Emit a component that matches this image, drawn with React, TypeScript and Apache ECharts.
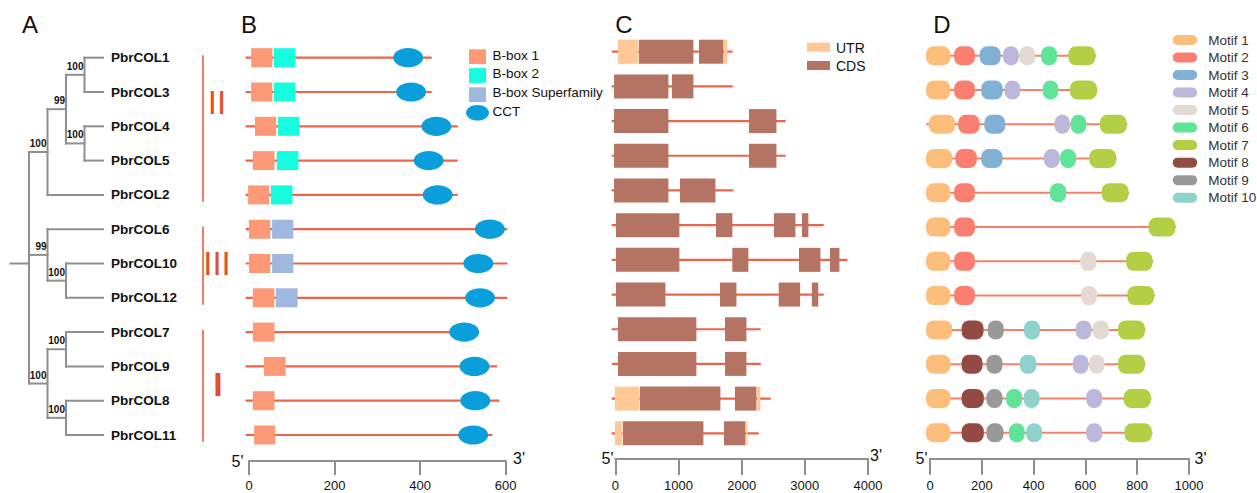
import React, { useEffect, useRef } from "react";
import * as echarts from "echarts";

const FONT = "'Liberation Sans', Arial, Helvetica, sans-serif";

// ---------- Rows (top to bottom) ----------
const genes = [
  "PbrCOL1", "PbrCOL3", "PbrCOL4", "PbrCOL5", "PbrCOL2", "PbrCOL6",
  "PbrCOL10", "PbrCOL12", "PbrCOL7", "PbrCOL9", "PbrCOL8", "PbrCOL11",
];

// ---------- A: phylogenetic tree ----------
// children: internal node ids (string) or leaf row indices (number)
const treeNodes = [
  { id: "root", depth: 0, children: ["II", "III", "I"], support: "" },
  { id: "II", depth: 1, children: ["n99", 4], support: "100" },
  { id: "n99", depth: 2, children: ["n13", "n45"], support: "99" },
  { id: "n13", depth: 3, children: [0, 1], support: "100" },
  { id: "n45", depth: 3, children: [2, 3], support: "100" },
  { id: "III", depth: 1, children: [5, "n1012"], support: "99" },
  { id: "n1012", depth: 2, children: [6, 7], support: "100" },
  { id: "I", depth: 1, children: ["n79", "n811"], support: "100" },
  { id: "n79", depth: 2, children: [8, 9], support: "100" },
  { id: "n811", depth: 2, children: [10, 11], support: "100" },
];
const leafDepth = 4;
const rootStubDepth = -1;

// Clades: [first row, last row], numeral, numeral row position
const cladeRows = [[0, 4], [5, 7], [8, 11]];
const cladeNames = ["II", "III", "I"];
const cladeLabelRow = [1.32, 6.0, 9.5];

// ---------- B: conserved domains (aa) ----------
const proteinSpan = [
  [-8, 427], [-8, 427], [-8, 488], [-8, 488], [-8, 488], [-8, 604],
  [-8, 604], [-8, 604], [-8, 525], [-8, 580], [-8, 585], [-8, 569],
];
const bbox1 = [
  [0, 5, 56], [1, 5, 56], [2, 14, 65], [3, 9, 61], [4, -2, 49], [5, 0, 51],
  [6, 0, 51], [7, 9, 61], [8, 9, 61], [9, 35, 87], [10, 9, 61], [11, 12, 63],
];
const bbox2 = [[0, 58, 110], [1, 58, 110], [2, 68, 119], [3, 65, 117], [4, 51, 103]];
const bboxSuper = [[5, 54, 105], [6, 54, 105], [7, 63, 115]];
const cct = [
  [0, 337, 407], [1, 344, 414], [2, 403, 473], [3, 385, 455], [4, 406, 476], [5, 528, 598],
  [6, 501, 571], [7, 505, 575], [8, 468, 538], [9, 492, 562], [10, 494, 564], [11, 489, 559],
];
const domainNames = ["B-box 1", "B-box 2", "B-box Superfamily", "CCT"];
const domainColors = ["#FC9A77", "#17FCDF", "#9EB8E0", "#0A9FDA"];

// ---------- C: gene structure (bp) ----------
const geneSpan = [
  [-57, 1858], [-57, 1858], [-57, 2697], [-57, 2697], [-57, 1868], [-57, 3299],
  [-57, 3673], [-57, 3299], [-57, 2302], [-57, 2302], [-57, 2460], [-57, 2270],
];
const cdsParts = [
  [0, 375, 1246], [0, 1325, 1721],
  [1, -20, 850], [1, 897, 1246],
  [2, -20, 850], [2, 2117, 2560],
  [3, -20, 850], [3, 2117, 2560],
  [4, -20, 850], [4, 1024, 1594],
  [5, 11, 1024], [5, 1594, 1863], [5, 2512, 2860], [5, 2955, 3066],
  [6, 11, 1024], [6, 1852, 2116], [6, 2908, 3256], [6, 3399, 3557],
  [7, 11, 803], [7, 1657, 1927], [7, 2587, 2935], [7, 3111, 3222],
  [8, 43, 1293], [8, 1737, 2085],
  [9, 43, 1293], [9, 1737, 2085],
  [10, 391, 1673], [10, 1895, 2243],
  [11, 122, 1404], [11, 1721, 2069],
];
const utrParts = [
  [0, 43, 375], [0, 1721, 1784],
  [10, -5, 391], [10, 2243, 2306],
  [11, -5, 122], [11, 2069, 2100],
];
const structNames = ["UTR", "CDS"];
const structColors = ["#FFC894", "#B47363"];

// ---------- D: motifs (aa) ----------
const motifSpan = [
  [-15, 641], [-15, 647], [-15, 762], [-15, 721], [-15, 769], [-15, 950],
  [-15, 862], [-15, 868], [-15, 832], [-15, 832], [-15, 855], [-15, 859],
];
// [row, motif number, start, end]
const motifHits = [
  [0, 1, -15, 81], [0, 2, 93, 176], [0, 3, 192, 275], [0, 4, 282, 345], [0, 5, 345, 409], [0, 6, 429, 493], [0, 7, 534, 641],
  [1, 1, -15, 81], [1, 2, 93, 176], [1, 3, 198, 283], [1, 4, 288, 351], [1, 6, 435, 498], [1, 7, 540, 647],
  [2, 1, -4, 99], [2, 2, 109, 194], [2, 3, 210, 293], [2, 4, 481, 543], [2, 6, 543, 606], [2, 7, 656, 762],
  [3, 1, -15, 88], [3, 2, 98, 183], [3, 3, 198, 282], [3, 4, 440, 503], [3, 6, 503, 566], [3, 7, 615, 721],
  [4, 1, -15, 81], [4, 2, 93, 176], [4, 6, 463, 528], [4, 7, 663, 769],
  [5, 1, -15, 81], [5, 2, 93, 176], [5, 7, 844, 950],
  [6, 1, -15, 81], [6, 2, 93, 176], [6, 5, 580, 645], [6, 7, 757, 862],
  [7, 1, -15, 81], [7, 2, 93, 176], [7, 5, 583, 648], [7, 7, 762, 868],
  [8, 1, -15, 88], [8, 8, 122, 209], [8, 9, 223, 287], [8, 10, 363, 427], [8, 4, 563, 626], [8, 5, 628, 693], [8, 7, 726, 832],
  [9, 1, -15, 81], [9, 8, 122, 205], [9, 9, 218, 282], [9, 10, 347, 413], [9, 4, 551, 614], [9, 5, 614, 676], [9, 7, 726, 832],
  [10, 1, -15, 81], [10, 8, 122, 210], [10, 9, 218, 282], [10, 6, 294, 358], [10, 10, 362, 425], [10, 4, 603, 667], [10, 7, 748, 855],
  [11, 1, -15, 81], [11, 8, 122, 210], [11, 9, 218, 286], [11, 6, 305, 368], [11, 10, 372, 435], [11, 4, 603, 667], [11, 7, 751, 859],
];
const motifNames = ["Motif 1", "Motif 2", "Motif 3", "Motif 4", "Motif 5", "Motif 6", "Motif 7", "Motif 8", "Motif 9", "Motif 10"];
const motifColors = ["#FDBE7B", "#FB7F70", "#80B0D3", "#BDB8DB", "#E5DAD3", "#5FE498", "#B2CF45", "#934A43", "#999999", "#8ED2CB"];

const panelLetters = ["A", "B", "C", "D"];

// ---------- helpers ----------
function nodeById(id: string) {
  return treeNodes.find((n) => n.id === id)!;
}
function nodeY(c: any): number {
  if (typeof c === "number") return c;
  const ys = nodeById(c).children.map(nodeY);
  return ys.reduce((a: number, b: number) => a + b, 0) / ys.length;
}
function nodeDepth(c: any): number {
  return typeof c === "number" ? leafDepth : nodeById(c).depth;
}
function treeSegments() {
  const segs: number[][] = [];
  treeNodes.forEach((n) => {
    const ys = n.children.map(nodeY);
    segs.push([n.depth, Math.min(...ys), n.depth, Math.max(...ys)]);
    n.children.forEach((c) => {
      const y = nodeY(c);
      segs.push([n.depth, y, nodeDepth(c), y]);
    });
  });
  const ry = nodeY("root");
  segs.push([rootStubDepth, ry, 0, ry]);
  return segs;
}

const lineRender = (color: string, width: number) => (params: any, api: any) => {
  const row = api.value(0);
  const p1 = api.coord([api.value(1), row]);
  const p2 = api.coord([api.value(2), row]);
  return {
    type: "line",
    shape: { x1: p1[0], y1: p1[1], x2: p2[0], y2: p2[1] },
    style: { stroke: color, lineWidth: width },
  };
};
const boxRender = (color: string, h: number, r: number) => (params: any, api: any) => {
  const row = api.value(0);
  const p1 = api.coord([api.value(1), row]);
  const p2 = api.coord([api.value(2), row]);
  return {
    type: "rect",
    shape: { x: p1[0], y: p1[1] - h / 2, width: Math.max(1, p2[0] - p1[0] - 0.6), height: h, r },
    style: { fill: color },
  };
};
const ellipseRender = (color: string, ry: number) => (params: any, api: any) => {
  const row = api.value(0);
  const p1 = api.coord([api.value(1), row]);
  const p2 = api.coord([api.value(2), row]);
  return {
    type: "ellipse",
    shape: { cx: (p1[0] + p2[0]) / 2, cy: p1[1], rx: (p2[0] - p1[0]) / 2, ry },
    style: { fill: color },
  };
};

function rowData(spans: number[][]) {
  return spans.map((s, i) => [i, s[0], s[1]]);
}

function axisX(gridIndex: number, max: number, interval: number, offset: number, tickLen: number, margin: number) {
  return {
    type: "value",
    gridIndex,
    min: 0,
    max,
    interval,
    offset,
    axisLine: { show: true, onZero: false, lineStyle: { color: "#8e8e8e", width: 2 } },
    axisTick: { show: true, length: tickLen, lineStyle: { color: "#8e8e8e", width: 2 } },
    axisLabel: {
      show: true, fontSize: 13, lineHeight: 10, color: "#111", margin, fontFamily: FONT,
      hideOverlap: false, formatter: (v: number) => String(v),
    },
    splitLine: { show: false },
  };
}
function rowAxis(gridIndex: number) {
  return { type: "value", gridIndex, min: -0.5, max: 11.5, inverse: true, show: false };
}

function buildOption() {
  const series: any[] = [];

  // Tree
  series.push({
    type: "custom",
    name: "tree",
    xAxisIndex: 0,
    yAxisIndex: 0,
    data: treeSegments(),
    encode: { x: [0, 2], y: [1, 3] },
    renderItem: (params: any, api: any) => {
      const p1 = api.coord([api.value(0), api.value(1)]);
      const p2 = api.coord([api.value(2), api.value(3)]);
      return {
        type: "line",
        shape: { x1: p1[0], y1: p1[1], x2: p2[0], y2: p2[1] },
        style: { stroke: "#8f8f8f", lineWidth: 2, lineCap: "square" },
      };
    },
  });
  // Bootstrap values
  series.push({
    type: "custom",
    name: "support",
    xAxisIndex: 0,
    yAxisIndex: 0,
    data: treeNodes.filter((n) => n.support).map((n) => [n.depth, nodeY(n.id), n.support]),
    encode: { x: 0, y: 1 },
    renderItem: (params: any, api: any) => {
      const p = api.coord([api.value(0), api.value(1)]);
      return {
        type: "text",
        x: p[0] - 1,
        y: p[1] - 8.5,
        style: {
          text: String(api.value(2)),
          fill: "#111",
          fontSize: 10,
          fontWeight: "bold",
          fontFamily: FONT,
          align: "right",
          verticalAlign: "middle",
        },
      };
    },
  });
  // Clade brackets and numerals
  series.push({
    type: "custom",
    name: "clades",
    xAxisIndex: 0,
    yAxisIndex: 0,
    data: cladeRows.map((r, i) => [r[0], r[1], cladeLabelRow[i], i]),
    encode: { y: [0, 1] },
    renderItem: (params: any, api: any) => {
      const x = api.coord([leafDepth, 0])[0] + 100;
      const a = api.coord([leafDepth, api.value(0) - 0.07])[1];
      const b = api.coord([leafDepth, api.value(1) + 0.2])[1];
      const ly = api.coord([leafDepth, api.value(2)])[1];
      const name = cladeNames[api.value(3)];
      return {
        type: "group",
        children: [
          { type: "line", shape: { x1: x, y1: a, x2: x, y2: b }, style: { stroke: "#E8603C", lineWidth: 1.6 } },
          {
            type: "text",
            x: x + (name === "I" ? 15 : 14),
            y: ly,
            style: {
              text: name,
              fill: "#E0522E",
              fontSize: name === "I" ? 34 : 33,
              fontFamily: "'Liberation Sans Narrow', 'Liberation Sans', Arial, sans-serif",
              fontWeight: name === "I" ? "bold" : "normal",
              align: "center",
              verticalAlign: "middle",
            },
          },
        ],
      };
    },
  });

  // B
  series.push({
    type: "custom", name: "protein", xAxisIndex: 1, yAxisIndex: 2,
    data: rowData(proteinSpan), encode: { x: [1, 2], y: 0 },
    renderItem: lineRender("#E8674A", 2.2),
  });
  [bbox1, bbox2, bboxSuper].forEach((d, k) => {
    series.push({
      type: "custom", name: domainNames[k], xAxisIndex: 1, yAxisIndex: 2,
      data: d, encode: { x: [1, 2], y: 0 },
      renderItem: boxRender(domainColors[k], 19, 0),
    });
  });
  series.push({
    type: "custom", name: domainNames[3], xAxisIndex: 1, yAxisIndex: 2,
    data: cct, encode: { x: [1, 2], y: 0 },
    renderItem: ellipseRender(domainColors[3], 9.6),
  });

  // C
  series.push({
    type: "custom", name: "gene", xAxisIndex: 2, yAxisIndex: 3,
    data: rowData(geneSpan), encode: { x: [1, 2], y: 0 },
    renderItem: lineRender("#E8674A", 2.2),
  });
  [utrParts, cdsParts].forEach((d, k) => {
    series.push({
      type: "custom", name: structNames[k], xAxisIndex: 2, yAxisIndex: 3,
      data: d, encode: { x: [1, 2], y: 0 },
      renderItem: boxRender(structColors[k], 24, 0),
    });
  });

  // D
  series.push({
    type: "custom", name: "motifLine", xAxisIndex: 3, yAxisIndex: 4,
    data: rowData(motifSpan), encode: { x: [1, 2], y: 0 },
    renderItem: lineRender("#F2836A", 2),
  });
  motifNames.forEach((name, k) => {
    series.push({
      type: "custom", name, xAxisIndex: 3, yAxisIndex: 4,
      data: motifHits.filter((h) => h[1] === k + 1).map((h) => [h[0], h[2], h[3]]),
      encode: { x: [1, 2], y: 0 },
      renderItem: boxRender(motifColors[k], 19, 7.5),
    });
  });

  // Graphic: panel letters, 5'/3', legends
  const graphic: any[] = [];
  const letterX = [30, 249, 624, 942];
  panelLetters.forEach((t, i) => {
    graphic.push({
      type: "text", x: letterX[i], y: 24.5,
      style: { text: t, fontSize: 24, fontFamily: FONT, fill: "#111", align: "center", verticalAlign: "middle" },
    });
  });
  const primeLabels = [
    ["5'", 237.5, 461], ["3'", 519, 458.5],
    ["5'", 607.5, 458.7], ["3'", 876, 455],
    ["5'", 921.5, 458.7], ["3'", 1200.5, 458.3],
  ];
  primeLabels.forEach((p: any) => {
    graphic.push({
      type: "text", x: p[1], y: p[2],
      style: { text: p[0], fontSize: 16, fontFamily: FONT, fill: "#111", align: "center", verticalAlign: "middle" },
    });
  });
  // B legend
  const bLegY = [56.7, 75.5, 94.7, 112.8];
  const bTextY = [55, 73.7, 92.3, 111.3];
  domainNames.forEach((name, k) => {
    if (k < 3) {
      graphic.push({ type: "rect", shape: { x: 469, y: bLegY[k] - 7.4, width: 17, height: 14.8 }, style: { fill: domainColors[k] } });
    } else {
      graphic.push({ type: "ellipse", shape: { cx: 477.5, cy: bLegY[k], rx: 11.5, ry: 7.8 }, style: { fill: domainColors[k] } });
    }
    graphic.push({
      type: "text", x: 492.5, y: bTextY[k],
      style: { text: name, fontSize: 13.5, fontFamily: FONT, fill: "#111", align: "left", verticalAlign: "middle" },
    });
  });
  // C legend
  const cLegY = [47.2, 65.5];
  structNames.forEach((name, k) => {
    graphic.push({ type: "rect", shape: { x: 807, y: cLegY[k] - 4.5, width: 23, height: 9 }, style: { fill: structColors[k] } });
    graphic.push({
      type: "text", x: 836, y: cLegY[k] + 0.4,
      style: { text: name, fontSize: 14, fontFamily: FONT, fill: "#111", align: "left", verticalAlign: "middle" },
    });
  });
  // D legend
  motifNames.forEach((name, k) => {
    const y = 40 + k * 17.52;
    graphic.push({ type: "rect", shape: { x: 1172.7, y: y - 5, width: 24.5, height: 10, r: 5 }, style: { fill: motifColors[k] } });
    graphic.push({
      type: "text", x: 1208.3, y,
      style: { text: name, fontSize: 13.5, fontFamily: FONT, fill: "#333", align: "left", verticalAlign: "middle" },
    });
  });

  const gridBase = { containLabel: false, outerBoundsMode: "none" };
  return {
    animation: false,
    backgroundColor: "#ffffff",
    grid: [
      { ...gridBase, left: 29, top: 40.55, width: 74, height: 411.6 },
      { ...gridBase, left: 249, top: 40.55, width: 256.7, height: 411.6 },
      { ...gridBase, left: 615.3, top: 34.35, width: 252.7, height: 416.3 },
      { ...gridBase, left: 930, top: 38.56, width: 259, height: 411.3 },
    ],
    xAxis: [
      { type: "value", gridIndex: 0, min: 0, max: 4, show: false },
      axisX(1, 600, 200, 8.85, 14, 19.3),
      axisX(2, 4000, 1000, 8.35, 16, 21.8),
      axisX(3, 1000, 200, 8.45, 16.5, 22.3),
    ],
    yAxis: [
      rowAxis(0),
      {
        type: "category",
        gridIndex: 0,
        data: genes,
        inverse: true,
        position: "right",
        axisLine: { show: false },
        axisTick: { show: false },
        splitLine: { show: false },
        axisLabel: {
          show: true, interval: 0, margin: 8, fontSize: 13.5, fontWeight: "bold",
          fontFamily: FONT, color: "#111", align: "left",
        },
      },
      rowAxis(1),
      rowAxis(2),
      rowAxis(3),
    ],
    series,
    graphic,
  };
}

export default function App() {
  const ref = useRef<HTMLDivElement>(null);
  useEffect(() => {
    document.body.style.margin = "0";
    const chart = echarts.init(ref.current as HTMLDivElement, null, { renderer: "svg" });
    chart.setOption(buildOption() as any);
    return () => chart.dispose();
  }, []);
  return <div ref={ref} style={{ width: 1257, height: 493 }} />;
}
